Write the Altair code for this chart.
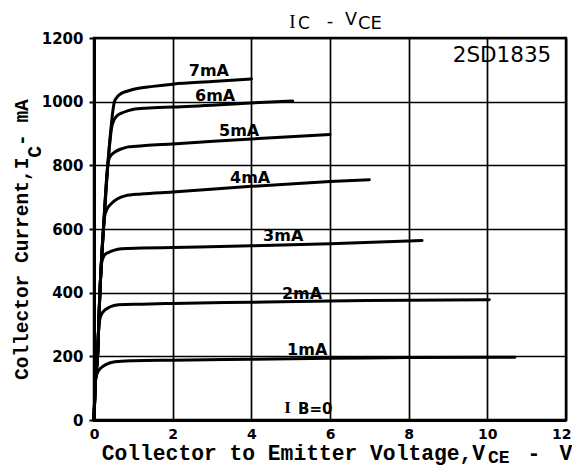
import altair as alt
import pandas as pd

# ---- data (V_CE in volts, I_C in mA) ----
curves = ["1mA", "2mA", "3mA", "4mA", "5mA", "6mA", "7mA"]

v_1mA = [0, 0.03, 0.06, 0.10, 0.19, 0.30, 0.53, 1.0, 2.0, 4.0, 6.0, 8.0, 10.7]
i_1mA = [0, 110, 138, 152, 165, 174, 183, 186, 188, 191, 194, 196, 197]

v_2mA = [0, 0.03, 0.09, 0.12, 0.16, 0.21, 0.28, 0.40, 0.62, 1.2, 2.0, 4.0, 6.0, 8.0, 10.05]
i_2mA = [0, 110, 200, 295, 322, 336, 346, 355, 362, 364, 366, 370, 374, 376, 378]

v_3mA = [0, 0.03, 0.09, 0.15, 0.19, 0.24, 0.30, 0.36, 0.50, 0.70, 1.2, 2.0, 4.0, 6.0, 8.34]
i_3mA = [0, 110, 200, 400, 490, 512, 522, 526, 533, 538, 540, 542, 547, 554, 564]

v_4mA = [0, 0.03, 0.09, 0.15, 0.24, 0.27, 0.33, 0.45, 0.60, 0.79, 1.2, 2.0, 4.0, 6.0, 7.0]
i_4mA = [0, 110, 200, 400, 600, 640, 662, 681, 695, 704, 710, 716, 734, 749, 755]

v_5mA = [0, 0.03, 0.09, 0.15, 0.24, 0.35, 0.38, 0.45, 0.53, 0.70, 0.87, 1.3, 2.0, 4.0, 6.0]
i_5mA = [0, 110, 200, 400, 600, 800, 820, 834, 842, 852, 858, 862, 867, 883, 897]

v_6mA = [0, 0.03, 0.09, 0.15, 0.24, 0.35, 0.45, 0.50, 0.58, 0.70, 0.85, 1.04, 1.5, 2.0, 4.0, 5.05]
i_6mA = [0, 110, 200, 400, 600, 800, 920, 940, 955, 964, 971, 977, 981, 983, 996, 1002]

v_7mA = [0, 0.03, 0.09, 0.15, 0.24, 0.35, 0.52, 0.58, 0.65, 0.75, 0.90, 1.04, 1.5, 2.0, 3.0, 4.0]
i_7mA = [0, 110, 200, 400, 600, 800, 1000, 1013, 1022, 1029, 1035, 1040, 1048, 1055, 1063, 1071]

label_text = ["7mA", "6mA", "5mA", "4mA", "3mA", "2mA", "1mA"]
label_v = [2.92, 3.08, 3.69, 3.97, 4.81, 5.29, 5.42]
label_i = [1096, 1018, 908, 760, 578, 397, 220]

x_ticks = [0, 2, 4, 6, 8, 10, 12]
y_ticks = [0, 200, 400, 600, 800, 1000, 1200]

# ---- build tables ----
series = {
    "1mA": (v_1mA, i_1mA), "2mA": (v_2mA, i_2mA), "3mA": (v_3mA, i_3mA),
    "4mA": (v_4mA, i_4mA), "5mA": (v_5mA, i_5mA), "6mA": (v_6mA, i_6mA),
    "7mA": (v_7mA, i_7mA),
}
rows = []
for name in curves:
    vs, is_ = series[name]
    for v, i in zip(vs, is_):
        rows.append({"curve": name, "V": v, "I": i})
df = pd.DataFrame(rows)
lab_df = pd.DataFrame({"label": label_text, "V": label_v, "I": label_i})
one = pd.DataFrame({"k": [0]})

MONO = "'Liberation Mono', 'Courier New', Cousine, 'Nimbus Mono PS', 'Nimbus Mono L', FreeMono, Courier, monospace"

xscale = alt.Scale(domain=[0, 12], nice=False, zero=False)
yscale = alt.Scale(domain=[0, 1200], nice=False, zero=False)

xaxis = alt.Axis(values=x_ticks, format="d", grid=True, gridColor="black", gridWidth=1.7, gridOpacity=1,
                 domain=True, domainColor="black", domainWidth=3, ticks=False,
                 labelFont="DejaVu Sans", labelFontWeight="bold", labelFontSize=14,
                 labelColor="black", labelPadding=7, labelFlush=False, title=None,
                 labelAlign={"condition": {"test": "datum.value === 12", "value": "right"},
                             "value": "center"},
                 labelOffset={"condition": {"test": "datum.value === 12", "value": 5},
                              "value": 0})
yaxis = alt.Axis(values=y_ticks, format="d", grid=True, gridColor="black", gridWidth=1.7, gridOpacity=1,
                 domain=True, domainColor="black", domainWidth=3, ticks=True, tickSize=5,
                 tickWidth=2, tickColor="black",
                 labelFont="DejaVu Sans", labelFontWeight="bold", labelFontSize=15,
                 labelColor="black", labelPadding=6, labelFlush=False, title=None)

lines = alt.Chart(df).mark_line(interpolate="monotone", color="black", strokeWidth=3,
                                strokeCap="round", strokeJoin="round").encode(
    x=alt.X("V:Q", scale=xscale, axis=xaxis),
    y=alt.Y("I:Q", scale=yscale, axis=yaxis),
    detail="curve:N",
)

labels = alt.Chart(lab_df).mark_text(font="DejaVu Sans", fontWeight="bold", fontSize=16,
                                     color="black", baseline="middle").encode(
    x=alt.X("V:Q", scale=xscale), y=alt.Y("I:Q", scale=yscale), text="label:N")


def txt(s, x, y, size, font, weight="normal", align="left", baseline="alphabetic", angle=0):
    return alt.Chart(one).mark_text(text=s, fontSize=size, font=font, fontWeight=weight,
                                    align=align, baseline=baseline, angle=angle,
                                    color="black").encode(x=alt.value(x), y=alt.value(y))


texts = [
    # top title  I_C - V_CE
    txt("I", 198.5, -9.7, 19, "Liberation Serif", align="center"),
    txt("C", 204, -8.7, 17, "DejaVu Sans"),
    txt("-", 236, -16.3, 18, "DejaVu Sans", align="center", baseline="middle"),
    txt("V", 251, -13, 17.5, "DejaVu Sans"),
    txt("CE", 264, -8.7, 18, "DejaVu Sans"),
    # device name
    txt("2SD1835", 408, 24, 21.5, "DejaVu Sans", align="center"),
    # I_B = 0
    txt("I", 193.5, 375, 17, "Liberation Serif", weight="bold", align="center"),
    txt("B=0", 204, 376, 15, "DejaVu Sans", weight="bold"),
    # x-axis title
    txt("Collector to Emitter Voltage,V", 7.7, 422, 21.3, MONO, weight="bold"),
    txt("CE", 394, 424.5, 18, MONO, weight="bold"),
    txt("-", 440, 422, 21.3, MONO, weight="bold", align="center"),
    txt("V", 472, 422, 21.3, MONO, weight="bold", align="center"),
    # y-axis title (rotated)
    txt("Collector Current,I", -66, 342, 19.5, MONO, weight="bold", angle=270),
    txt("C", -53, 119.7, 19.5, MONO, weight="bold", angle=270),
    txt(" - mA", -66, 108, 19.5, MONO, weight="bold", angle=270),
]

chart = alt.layer(lines, labels, *texts).properties(
    width=472, height=382,
    autosize=alt.AutoSizeParams(type="none"),
    padding={"left": 86, "top": 30, "right": 6, "bottom": 47},
    background="white",
).configure_view(stroke="black", strokeWidth=2.5)

chart.save("out.html", embed_options={"renderer": "svg", "actions": False})
